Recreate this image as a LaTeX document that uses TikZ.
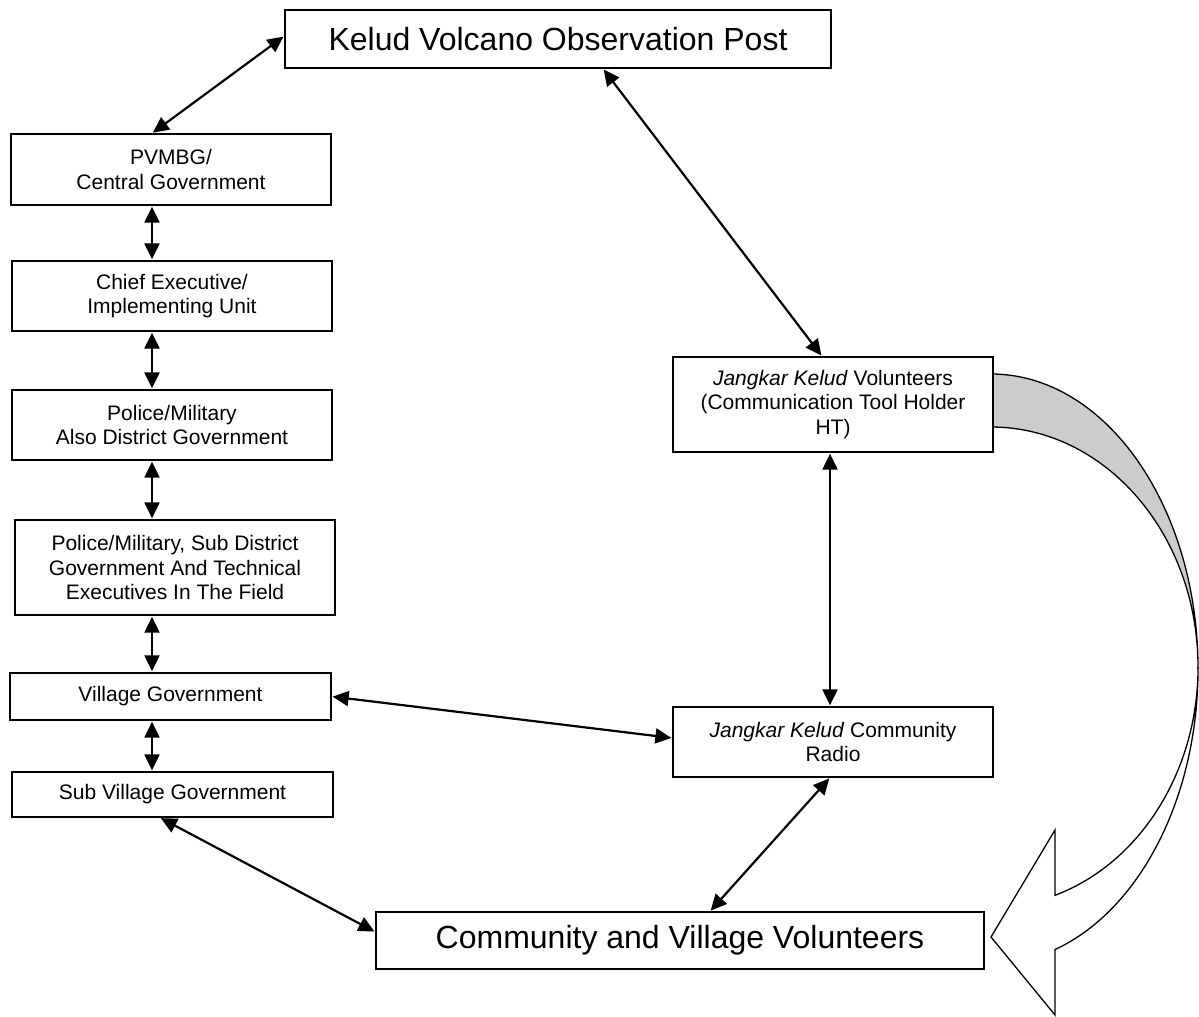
\documentclass[tikz,border=0pt]{standalone}
\usepackage{fontspec}
\setmainfont{Liberation Sans}
\usetikzlibrary{arrows.meta}
\definecolor{bandgrey}{RGB}{204,204,204}
\tikzset{
  box/.style={draw, line width=1.3pt, inner sep=0pt, align=center, fill=white},
  smallbox/.style={box, font=\fontsize{21}{24.2}\selectfont},
  bigbox/.style={box, font=\fontsize{32}{36}\selectfont},
  arr/.style={line width=2.2pt, {Triangle[length=16pt,width=15pt]}-{Triangle[length=16pt,width=15pt]}, shorten <=1pt, shorten >=1pt},
  band/.style={line width=1.3pt, draw=black}
}
\begin{document}
\begin{tikzpicture}[x=1pt,y=1pt]
\useasboundingbox (0,0) rectangle (1199,-1017);

% curved block arrow (behind boxes)
\path[band, fill=bandgrey] (991,-374) arc[start angle=90, end angle=0, x radius=207, y radius=295]
  -- (1198,-667) arc[start angle=0, end angle=90, x radius=207, y radius=240] -- cycle;
\path[band, fill=white] (1198,-669) arc[start angle=0, end angle=-72, x radius=207, y radius=295]
  -- (1055,-1015) -- (991,-937) -- (1055,-830) -- (1055,-895.3)
  arc[start angle=-72, end angle=0, x radius=207, y radius=240] -- cycle;

% nodes
\node[bigbox, minimum width=546pt, minimum height=58pt] (kelud) at (558,-39) {Kelud Volcano Observation Post};
\node[smallbox, minimum width=320pt, minimum height=71pt] (pvmbg) at (171,-169.5) {PVMBG/\\Central Government};
\node[smallbox, minimum width=320pt, minimum height=70pt] (chief) at (172,-296) {Chief Executive/\\Implementing Unit};
\node[smallbox, minimum width=320pt, minimum height=70pt] (police) at (172,-425) {Police/Military\\Also District Government};
\node[smallbox, minimum width=320pt, minimum height=95pt] (policesub) at (175,-567.5) {Police/Military, Sub District\\Government And Technical\\Executives In The Field};
\node[smallbox, minimum width=321pt, minimum height=47pt] (village) at (170.5,-696.5) {Village Government};
\node[smallbox, minimum width=321pt, minimum height=45pt] (subvill) at (172.5,-794.5) {Sub Village Government};
\node[smallbox, minimum width=320pt, minimum height=95pt] (jangkar) at (833,-404.5) {\textit{Jangkar Kelud} Volunteers\\(Communication Tool Holder\\HT)};
\node[smallbox, minimum width=320pt, minimum height=70pt] (radio) at (833,-742) {\textit{Jangkar Kelud} Community\\Radio};
\node[bigbox, minimum width=608pt, minimum height=57pt] (community) at (680,-940.5) {Community and Village Volunteers};

% connectors
\draw[arr] ([xshift=-19pt]pvmbg.north) -- ([yshift=3pt]kelud.west);
\draw[arr] ([xshift=45pt]kelud.south) -- ([xshift=-11pt]jangkar.north);
\draw[arr] ([xshift=-19pt]pvmbg.south) -- ([xshift=-20pt]chief.north);
\draw[arr] ([xshift=-20pt]chief.south) -- ([xshift=-20pt]police.north);
\draw[arr] ([xshift=-20pt]police.south) -- ([xshift=-23pt]policesub.north);
\draw[arr] ([xshift=-23pt]policesub.south) -- ([xshift=-18.5pt]village.north);
\draw[arr] ([xshift=-18.5pt]village.south) -- ([xshift=-20.5pt]subvill.north);
\draw[arr] ([xshift=-3pt]jangkar.south) -- ([xshift=-3pt]radio.north);
\draw[arr] (village.east) -- ([yshift=4pt]radio.west);
\draw[arr] ([xshift=-3pt]radio.south) -- ([xshift=30pt]community.north);
\draw[arr] ([xshift=-12.5pt]subvill.south) -- ([yshift=8.5pt]community.west);
\end{tikzpicture}
\end{document}
